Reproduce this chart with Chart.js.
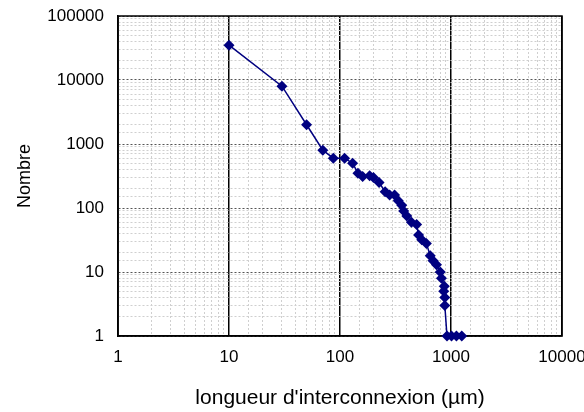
<!DOCTYPE html>
<html>
<head>
<meta charset="utf-8">
<script src="https://cdn.jsdelivr.net/npm/chart.js@4.4.0/dist/chart.umd.min.js"></script>
<style>
  html, body { margin: 0; padding: 0; background: #fff; }
</style>
</head>
<body>
<canvas id="mycanvas" width="584" height="412"></canvas>
<script>
// longueur d'interconnexion (µm) et nombre correspondant
var longueur = [10, 30, 50, 70, 87, 110, 130, 145, 160, 185, 200, 225, 255, 280, 310, 335, 360, 375, 400, 440, 490, 510, 545, 600, 650, 690, 740, 800, 820, 870, 860, 880, 880, 920, 1010, 1120, 1250];
var nombre   = [35000, 8000, 2000, 800, 600, 600, 500, 350, 310, 320, 300, 250, 180, 160, 160, 130, 110, 90, 75, 60, 55, 38, 32, 28, 18, 15, 13, 10, 8, 6, 5, 4, 3, 1, 1, 1, 1];
var xTicks = [1, 10, 100, 1000, 10000];
var yTicks = [1, 10, 100, 1000, 10000, 100000];

var points = [];
for (var i in longueur) {
  points.push({x: longueur[i], y: nombre[i]});
}

function isMajor(v) {
  var l = Math.log10(v);
  return Math.abs(l - Math.round(l)) < 1e-9;
}

// pas de marge automatique pour les etiquettes qui debordent
function sansMarge(s) {
  s.paddingLeft = 0; s.paddingRight = 0;
  s.paddingTop = 0; s.paddingBottom = 0;
}

var police = "'Liberation Sans', Arial, sans-serif";

var cadre = {
  id: 'cadre',
  beforeDatasetsDraw: function(chart) {
    var a = chart.chartArea, c = chart.ctx;
    c.save();
    c.strokeStyle = '#000';
    c.lineWidth = 1.5;
    c.strokeRect(a.left, a.top, a.right - a.left, a.bottom - a.top);
    c.restore();
  }
};

var ctx = document.getElementById('mycanvas');
new Chart(ctx, {
  type: 'scatter',
  data: {
    datasets: [{
      label: 'Nombre',
      data: points,
      showLine: true,
      clip: false,
      borderColor: '#000080',
      backgroundColor: '#000080',
      borderWidth: 1.5,
      pointStyle: 'rectRot',
      pointRadius: 5.5,
      pointBorderWidth: 0
    }]
  },
  options: {
    responsive: false,
    animation: false,
    devicePixelRatio: 1,
    layout: { padding: { top: 16, right: 22, left: 0, bottom: 0 } },
    plugins: { legend: { display: false }, tooltip: { enabled: false } },
    scales: {
      x: {
        type: 'logarithmic',
        position: 'bottom',
        min: 1, max: 10000,
        afterFit: function(s) { s.height = 76; sansMarge(s); },
        ticks: {
          autoSkip: false, maxRotation: 0, padding: 11, color: '#000',
          font: { family: police, size: 17 },
          callback: function(v) { return xTicks.indexOf(v) >= 0 ? String(v) : ''; }
        },
        grid: {
          drawTicks: false, lineWidth: 1.5,
          color: function(c) { return c.tick && isMajor(c.tick.value) ? '#000' : 'rgba(0,0,0,0)'; }
        },
        border: { color: '#000', width: 1.5 },
        title: {
          display: true, text: "longueur d'interconnexion (µm)", color: '#000',
          font: { family: police, size: 21 }, padding: { top: 0, bottom: 1 }
        }
      },
      x2: {
        type: 'logarithmic',
        position: 'bottom',
        min: 1, max: 10000,
        afterFit: function(s) { s.height = 0; sansMarge(s); },
        ticks: { display: false },
        grid: {
          drawTicks: false, lineWidth: 1,
          color: function(c) { return c.tick && !isMajor(c.tick.value) ? '#cfcfcf' : 'rgba(0,0,0,0)'; }
        },
        border: { display: false, dash: [2, 2] }
      },
      y: {
        type: 'logarithmic',
        min: 1, max: 100000,
        afterFit: function(s) { s.width = 118; sansMarge(s); },
        ticks: {
          autoSkip: false, padding: 14, color: '#000',
          font: { family: police, size: 17 },
          callback: function(v) { return yTicks.indexOf(v) >= 0 ? String(v) : ''; }
        },
        grid: {
          drawTicks: false, lineWidth: 1,
          color: function(c) { return c.tick && isMajor(c.tick.value) ? '#555' : '#cfcfcf'; }
        },
        border: { color: '#000', width: 1.5, dash: [2, 2] },
        title: {
          display: true, text: 'Nombre', color: '#000',
          font: { family: police, size: 18 }, padding: { top: 14, bottom: 0 }
        }
      }
    }
  },
  plugins: [cadre]
});
</script>
</body>
</html>
